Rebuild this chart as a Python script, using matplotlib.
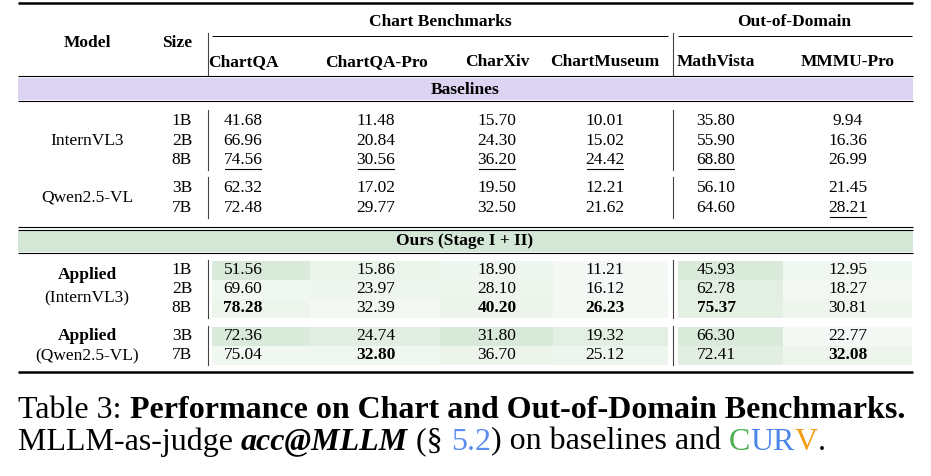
import matplotlib
matplotlib.use("Agg")
import matplotlib.pyplot as plt
from matplotlib.patches import Rectangle

columns = ["ChartQA", "ChartQA-Pro", "CharXiv", "ChartMuseum", "MathVista", "MMMU-Pro"]
groups = ["Chart Benchmarks", "Out-of-Domain"]
base_models = ["InternVL3", "Qwen2.5-VL"]
base_sizes = [["1B", "2B", "8B"], ["3B", "7B"]]
base_vals = [
    [[41.68, 11.48, 15.70, 10.01, 35.80, 9.94],
     [66.96, 20.84, 24.30, 15.02, 55.90, 16.36],
     [74.56, 30.56, 36.20, 24.42, 68.80, 26.99]],
    [[62.32, 17.02, 19.50, 12.21, 56.10, 21.45],
     [72.48, 29.77, 32.50, 21.62, 64.60, 28.21]],
]
base_underline = [[[0]*6, [0]*6, [1, 1, 1, 1, 1, 0]], [[0]*6, [0, 0, 0, 0, 0, 1]]]
ours_models = [("Applied", "(InternVL3)"), ("Applied", "(Qwen2.5-VL)")]
ours_vals = [
    [[51.56, 15.86, 18.90, 11.21, 45.93, 12.95],
     [69.60, 23.97, 28.10, 16.12, 62.78, 18.27],
     [78.28, 32.39, 40.20, 26.23, 75.37, 30.81]],
    [[72.36, 24.74, 31.80, 19.32, 66.30, 22.77],
     [75.04, 32.80, 36.70, 25.12, 72.41, 32.08]],
]
ours_bold = [[[0]*6, [0]*6, [1, 0, 1, 1, 1, 0]], [[0]*6, [0, 1, 0, 0, 0, 1]]]

W, H = 931, 476
fig = plt.figure(figsize=(W/100, H/100), dpi=100)
ax = fig.add_axes([0, 0, 1, 1])
ax.set_xlim(0, W); ax.set_ylim(H, 0); ax.axis("off")
FONT = "Liberation Serif"
fs = 12.5

def T(x, y, s, **kw):
    kw.setdefault("fontsize", fs)
    kw.setdefault("ha", "center")
    return ax.text(x, y, s, va="center", family=FONT, **kw)

def hline(y, x0=18, x1=913, lw=1.0):
    ax.plot([x0, x1], [y, y], color="black", lw=lw, solid_capstyle="butt")

def vline(x, y0, y1):
    ax.plot([x, x], [y0, y1], color="#444444", lw=0.8)

colx = [243, 376, 497, 605, 716, 848]
cell_edges = [(212, 310), (310, 440), (440, 553), (553, 668), (678, 783), (783, 912)]

hline(3, lw=1.8)
T(440, 22, groups[0], weight="bold")
T(794, 22, groups[1], weight="bold")
hline(36, 212, 668, 0.7); hline(36, 678, 912, 0.7)
T(87, 43, "Model", weight="bold"); T(177, 43, "Size", weight="bold")
for x, c in zip(colx, columns):
    T(x, 62, c, weight="bold")
vline(208, 33, 76); vline(673, 33, 76)
hline(76, lw=0.8)
ax.add_patch(Rectangle((18, 78), 895, 22, color="#dcd4f2", lw=0))
T(465, 90, "Baselines", weight="bold")
hline(101, lw=0.8)

rows_y = [[121, 141, 160], [188, 208]]
lab_y = [141, 198]
for g in range(2):
    T(87, lab_y[g], base_models[g])
    vline(208, rows_y[g][0]-11, rows_y[g][-1]+10)
    vline(673, rows_y[g][0]-11, rows_y[g][-1]+10)
    for r, y in enumerate(rows_y[g]):
        T(182, y, base_sizes[g][r])
        for c, x in enumerate(colx):
            T(x, y, f"{base_vals[g][r][c]:.2f}")
            if base_underline[g][r][c]:
                ax.plot([x-18, x+18], [y+9, y+9], color="black", lw=0.8)

hline(227, lw=0.8); hline(229.5, lw=0.8)
ax.add_patch(Rectangle((18, 231), 895, 21, color="#d4e7d7", lw=0))
T(465, 241, "Ours (Stage I + II)", weight="bold")
hline(253, lw=0.8)

orow_y = [[270, 289, 308], [336, 355]]
olab_y = [(275, 298), (336, 356)]
for g in range(2):
    T(87, olab_y[g][0], ours_models[g][0], weight="bold")
    T(87, olab_y[g][1], ours_models[g][1])
    vline(208, orow_y[g][0]-10, orow_y[g][-1]+10)
    vline(673, orow_y[g][0]-10, orow_y[g][-1]+10)
    for r, y in enumerate(orow_y[g]):
        T(182, y, base_sizes[g][r])
        for c, x in enumerate(colx):
            v = ours_vals[g][r][c]
            d = v - base_vals[g][r][c]
            a = max(0.0, min(1.0, d / 10.5))
            x0, x1 = cell_edges[c]
            ax.add_patch(Rectangle((x0, y-9.5), x1-x0, 19,
                                   color=(0.55, 0.75, 0.55), alpha=0.05 + 0.28*a, lw=0))
            T(x, y, f"{v:.2f}", weight="bold" if ours_bold[g][r][c] else "normal")

hline(372, lw=1.8)

fig.canvas.draw()
rend = fig.canvas.get_renderer()
inv = ax.transData.inverted()

def run(pieces, x, y, size=23):
    for s, kw in pieces:
        t = ax.text(x, y, s, va="center", ha="left", family=FONT, fontsize=size, **kw)
        bb = t.get_window_extent(rend)
        x = inv.transform((bb.x1, bb.y0))[0]

run([("Table 3: ", {}), ("Performance on Chart and Out-of-Domain Benchmarks.", {"weight": "bold"})], 18, 411)
run([("MLLM-as-judge ", {}), ("acc@MLLM", {"weight": "bold", "style": "italic"}), (" (§ ", {}),
     ("5.2", {"color": "#5b8def"}), (") on baselines and ", {}),
     ("C", {"color": "#4caf50"}), ("UR", {"color": "#4a86e8"}), ("V", {"color": "#f39c12"}), (".", {})],
    18, 442)

fig.savefig("out.png", dpi=100)
